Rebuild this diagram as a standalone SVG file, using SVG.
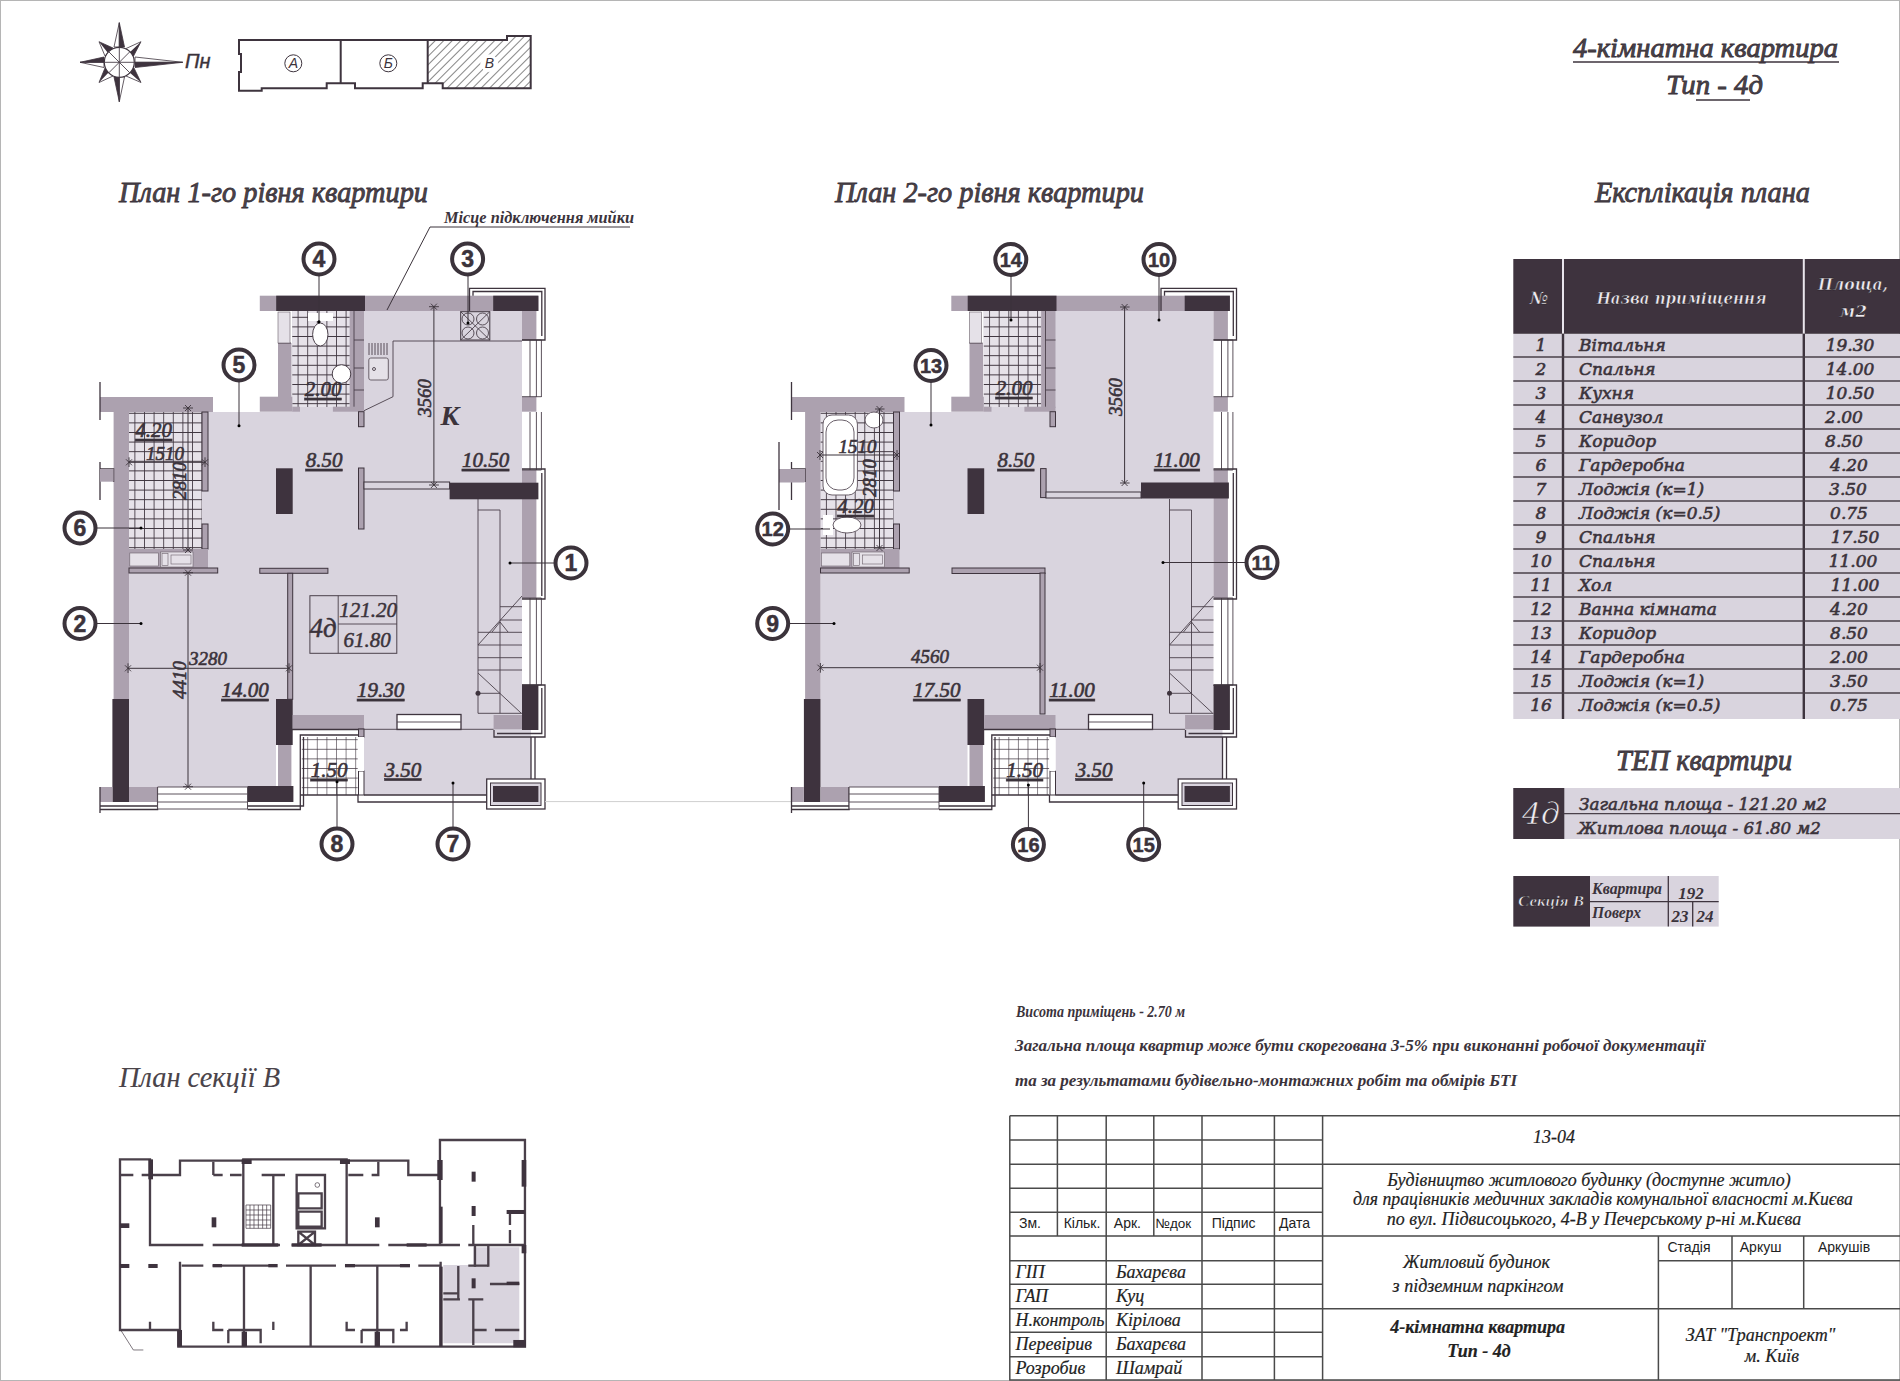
<svg xmlns="http://www.w3.org/2000/svg" width="1900" height="1381" viewBox="0 0 1900 1381">
<style>
text{font-family:"Liberation Serif","Times New Roman",serif;font-style:italic;fill:#3b333b}
.h{font-size:29px;stroke:#3b333b;stroke-width:.8;fill:#4a444a}
.lab{font-size:21px;text-anchor:middle;text-decoration:underline;stroke:#3b333b;stroke-width:.6}
.dim{font-size:19px;text-anchor:middle;stroke:#3b333b;stroke-width:.6}
.num{font-family:"Liberation Sans",Arial,sans-serif;font-style:normal;font-weight:bold;font-size:23px;text-anchor:middle;stroke:#3b333b;stroke-width:.5}
.n2{font-size:20px}
.r{font-family:"DejaVu Serif",serif;font-size:17px;stroke:#3b333b;stroke-width:.6}
.rm{text-anchor:middle}
.w{fill:#eeeaf0;stroke:#1f1a1f;stroke-width:.5}
.note{font-size:16px;font-weight:bold}
.tb{font-size:18px;stroke:#222;stroke-width:.2;fill:#222}
.ts{font-family:"Liberation Sans",Arial,sans-serif;font-style:normal;font-size:14px;text-anchor:middle;fill:#222}
.tm{font-size:18px;text-anchor:middle;stroke:#222;stroke-width:.2;fill:#222}
.dk{fill:#3e333e}.md{fill:#aca1af}.fl{fill:#d9d4de}
.ln{fill:none;stroke:#3e343e;stroke-width:1.3}
.thin{fill:none;stroke:#4a404a;stroke-width:.9}
.dl{stroke:#3b333b;stroke-width:1;fill:none;marker-start:url(#tick);marker-end:url(#tick)}
.c{fill:#fff;stroke:#3b333b;stroke-width:4}
.ld{fill:none;stroke:#3b333b;stroke-width:1}
.sw{fill:none;stroke:#4a404a;stroke-linecap:butt}
</style>
<defs>
<pattern id="tile" width="9.6" height="9.6" patternUnits="userSpaceOnUse"><rect width="9.6" height="9.6" fill="#e6e2e9"/><path d="M0 0H9.6M0 0V9.6" stroke="#3e343e" stroke-width="1.7"/></pattern>
<pattern id="tileW" width="9.6" height="9.6" patternUnits="userSpaceOnUse"><rect width="9.6" height="9.6" fill="#fff"/><path d="M0 0H9.6M0 0V9.6" stroke="#3e343e" stroke-width="1.2"/></pattern>
<pattern id="hatch" width="6" height="6" patternUnits="userSpaceOnUse" patternTransform="rotate(-45)"><rect width="6" height="6" fill="#fff"/><path d="M0 0H6" stroke="#444" stroke-width="1.3"/></pattern>
<marker id="tick" markerUnits="userSpaceOnUse" markerWidth="10" markerHeight="10" refX="5" refY="5" orient="auto"><path d="M2 2L8 8M2 8L8 2M5 0V10" stroke="#3b333b" stroke-width=".9" fill="none"/></marker>
<g id="shell">
<path class="fl" d="M129 412H292V311H522V729H292V745H276V787H129Z"/>
<rect class="fl" x="364" y="729" width="167" height="66"/>
<rect x="129" y="412" width="73" height="137" fill="url(#tile)"/>
<rect x="292.3" y="311" width="57.4" height="96" fill="url(#tile)"/>
<rect x="301.8" y="737" width="55.9" height="58" fill="url(#tileW)"/>
<rect class="md" x="259.8" y="295.7" width="278.6" height="15.3"/>
<rect class="dk" x="276.2" y="295.7" width="88.8" height="15.3"/>
<rect class="dk" x="493.2" y="295.7" width="45.2" height="15.3"/>
<rect class="md" x="522" y="311" width="14.4" height="29"/>
<rect class="md" x="522" y="396.7" width="14.4" height="15"/>
<rect class="md" x="522" y="470" width="14.4" height="128"/>
<rect class="md" x="113.6" y="397" width="15.4" height="302"/>
<rect class="md" x="100" y="397" width="113" height="15"/>
<rect class="dk" x="112.4" y="699" width="16.6" height="103"/>
<rect class="md" x="100" y="787" width="12.4" height="15"/>
<rect class="md" x="129" y="787" width="28.6" height="15"/>
<rect class="dk" x="247.5" y="786" width="45.9" height="16"/>
<rect class="dk" x="276" y="699" width="16.7" height="46"/>
<rect class="md" x="278" y="745" width="13.4" height="41"/>
<rect class="md" x="292.7" y="715" width="71.3" height="14.3"/>
<rect class="md" x="493.6" y="715" width="28.4" height="14.3"/>
<rect class="dk" x="522" y="685" width="16.4" height="45"/>
<rect class="dk" x="276" y="468.3" width="16.7" height="45.7"/>
<rect class="md" x="278" y="343" width="13.5" height="54"/>
<rect class="md" x="259.8" y="396.7" width="32.5" height="15"/>
<rect class="md" x="349.7" y="311" width="14.3" height="97"/>
<path class="thin" d="M354 311V408M354 340H364M354 368H364M354 390H364M278 343H291"/>
<rect class="md" x="332.9" y="406.7" width="31.1" height="5"/>
<rect class="md" x="292.3" y="406.7" width="7.7" height="5"/>
<rect class="md" x="358.5" y="411.7" width="5.5" height="15" stroke="#3e343e"/>
<rect class="md" x="202" y="412" width="6" height="79" stroke="#3e343e"/>
<rect class="md" x="202" y="524" width="6" height="25" stroke="#3e343e"/>
<rect class="md" x="129" y="549" width="79" height="19.5"/>
<rect class="md" x="129" y="568" width="88.7" height="5" stroke="#3e343e"/>
<rect x="129.8" y="553" width="28.5" height="13" fill="#e5e1e8" stroke="#6a606a" stroke-width=".6"/>
<rect x="160.5" y="552" width="32.5" height="15" fill="#e5e1e8" stroke="#6a606a" stroke-width=".6"/>
<rect x="162" y="553.5" width="6" height="12" fill="none" stroke="#6a606a" stroke-width=".6"/>
<rect x="171" y="555" width="20" height="9" fill="none" stroke="#6a606a" stroke-width=".6"/>
<rect x="278" y="312" width="12" height="31" fill="#e5e1e8" stroke="#6a606a" stroke-width=".6"/>
<path class="thin" d="M522 340H541.4M522 396.7H541.4M522 470H541.4M522 598H541.4M522 685H541.4"/>
<path class="thin" d="M530 340V397M536.4 340V397M541.4 340V397M530 412V470M536.4 412V470M541.4 412V470M530 598V685M536.4 598V685M541.4 598V685"/>
<path class="ln" d="M469.5 311V288.3H545V340H522M473 295.7V291.5H541.8V336M522 469H545V599H522M541.8 473V596M522 685H545V737H494V730M541.8 688V733.5H497"/>
<path class="ln" d="M100 787V813M100 806H157.6M100 809.5H157.6V787M100 382V420M100 462V500M100 469H113.6V482"/>
<rect class="md" x="100" y="469" width="13.6" height="12.7"/>
<rect x="157.6" y="787" width="89.9" height="22" fill="#fff"/>
<path class="thin" d="M157.6 787H247.5M157.6 794H247.5M157.6 802H247.5M157.6 809H247.5M157.6 787V809M247.5 787V809"/>
<path class="ln" d="M247.5 809.5H300.3V735H364M303.5 737V806H247.5M292 729.5H364"/>
<rect x="358.5" y="729" width="5.5" height="8" class="md" stroke="#3e343e"/>
<rect x="358.5" y="771" width="5.5" height="24" fill="#fff" stroke="#3e343e"/>
<rect x="358" y="737" width="6" height="34" fill="#fff"/>
<path class="ln" d="M300.3 795H358M358 795V802H487M364 795H487"/>
<rect x="486.7" y="779" width="58.3" height="30" fill="#fff" stroke="#3e343e" stroke-width="1.3"/>
<rect x="490.5" y="783" width="50.5" height="22.5" fill="#d9d4de" stroke="#3e343e" stroke-width="1"/>
<rect class="dk" x="493" y="786" width="45.4" height="16"/>
<path class="ln" d="M531 737V779M535 737V779"/>
<rect x="397" y="714.5" width="64" height="15" fill="#fff" stroke="#3e343e" stroke-width="1.3"/>
<path class="thin" d="M397 722H461"/>
<path class="thin" d="M364 729.3H493.6"/>
<path class="thin" d="M478 499V713.3H522M478 510H500V713.3M500 606.7H522M500 620H522M478 632.3H522M478 645H522M478 657.7H522M478 670H522M478 645L522 596M478 673L521 713M478 693.3H500M492 632L500 622L508 632"/>
<circle cx="478" cy="693.3" r="2.5" fill="#3e343e"/>
</g>
</defs>

<rect width="1900" height="1381" fill="#fff"/>
<rect x=".5" y=".5" width="1899" height="1380" fill="none" stroke="#b5b5b5"/>

<g id="compass">
<path fill="#fff" stroke="#3e343e" stroke-width=".8" d="M119.3 22.7L114 47H119.3ZM124.5 47L119.3 22.7V47ZM182.7 62.3L135 57V62.3ZM135 67.5L182.7 62.3H135ZM119.3 101.7L114 77H119.3ZM124.5 77L119.3 101.7V77ZM80 62.3L104 57V62.3ZM104 67.5L80 62.3H104Z"/>
<path fill="#3e333e" d="M119.3 22.7L124.5 47H119.3ZM182.7 62.3L135 67.5V62.3ZM119.3 101.7L114 77H119.3ZM80 62.3L104 57V62.3Z"/>
<path fill="#fff" stroke="#3e343e" stroke-width=".8" d="M99 41.7L113 48L105 56ZM141 41.7L133 57L125 49ZM141 82.5L126 76L134 68ZM99 82.5L105 68L113 76Z"/>
<path fill="#3e333e" d="M99 41.7L113 48L108 53ZM141 41.7L133 57L129 53ZM141 82.5L129 72L134 68ZM99 82.5L105 68L109 72Z"/>
<circle cx="119.3" cy="62.3" r="15" fill="#fff" stroke="#3e343e" stroke-width="1.2"/>
<path class="thin" d="M104.3 62.3H134.3M119.3 47.3V77.3M108.7 51.7L129.9 72.9M129.9 51.7L108.7 72.9"/>
<text x="185" y="68" font-size="20" stroke="#3b333b" stroke-width=".4" style="font-family:'Liberation Sans',Arial,sans-serif">Пн</text>
</g>

<g id="key-plan">
<path fill="url(#hatch)" d="M427.7 40H507V36H530.7V88.3H442.7V83.3H427.7Z"/>
<path fill="none" stroke="#3e343e" stroke-width="2" d="M239 40H507V36H530.7V88.3H442.7V83.3H422.7V88.3H355V83.3H326.7V88.3H261.7V90.7H239V72H241V54H239ZM340.7 40V83.3M427.7 40V83.3"/>
<circle cx="293.3" cy="63.3" r="8.5" fill="#fff" stroke="#3e343e"/>
<circle cx="388.3" cy="63.3" r="8.5" fill="#fff" stroke="#3e343e"/>
<circle cx="489.3" cy="63.3" r="8.5" fill="#fff" stroke="#fff"/>
<text x="293.3" y="68" font-size="14" text-anchor="middle" style="font-family:'Liberation Sans',Arial,sans-serif">А</text>
<text x="388.3" y="68" font-size="14" text-anchor="middle" style="font-family:'Liberation Sans',Arial,sans-serif">Б</text>
<text x="489.3" y="68" font-size="14" text-anchor="middle" style="font-family:'Liberation Sans',Arial,sans-serif">В</text>
</g>

<g id="titles">
<text class="h" x="1573" y="57" textLength="265" lengthAdjust="spacingAndGlyphs" style="font-size:27px">4-кімнатна квартира</text>
<path class="ln" d="M1573 62H1839M1696 100H1750"/>
<text class="h" x="1666" y="94" textLength="97" lengthAdjust="spacingAndGlyphs" style="font-size:27px">Тип - 4д</text>
<text class="h" x="119" y="202" textLength="309" lengthAdjust="spacingAndGlyphs">План 1-го рівня квартири</text>
<text class="h" x="835" y="202" textLength="309" lengthAdjust="spacingAndGlyphs">План 2-го рівня квартири</text>
<text class="h" x="1595" y="202" textLength="215" lengthAdjust="spacingAndGlyphs">Експлікація плана</text>
<text class="h" x="1616" y="770" textLength="176" lengthAdjust="spacingAndGlyphs">ТЕП квартири</text>
<text class="h" x="119" y="1087" textLength="161" lengthAdjust="spacingAndGlyphs" style="stroke-width:.1">План секції В</text>
</g>

<g id="plan-1">
<use href="#shell"/>
<rect class="md" x="358.5" y="468" width="5.5" height="61" stroke="#3e343e"/>
<rect class="fl" x="364" y="482" width="85.6" height="7" stroke="#3e343e"/>
<rect class="dk" x="449.6" y="482.7" width="88.8" height="16.6"/>
<rect class="md" x="259.8" y="568.3" width="68.1" height="5" stroke="#3e343e"/>
<rect class="md" x="287.7" y="573.3" width="5" height="126" stroke="#3e343e"/>
<path class="thin" d="M364 410.7L393 396.7V341H522"/>
<rect x="460.7" y="311.7" width="29.1" height="28.3" fill="#d9d4de" stroke="#3e343e"/>
<path class="thin" d="M460.7 311.7L489.8 340M489.8 311.7L460.7 340"/>
<circle cx="468" cy="319" r="6" class="thin"/><circle cx="482.5" cy="319" r="6" class="thin"/><circle cx="468" cy="333" r="6" class="thin"/><circle cx="482.5" cy="333" r="6" class="thin"/>
<rect x="368.8" y="358" width="19.5" height="22" rx="2" fill="#e5e1e8" stroke="#6a606a"/>
<circle cx="374" cy="369" r="1.5" class="thin"/>
<path class="thin" d="M369 343V355M372 343V355M375 343V355M378 343V355M381 343V355M384 343V355M387 343V355"/>
<rect x="308" y="313" width="25" height="8" fill="#fff"/>
<ellipse cx="320.3" cy="334.5" rx="7.7" ry="11.5" fill="#fff" stroke="#4a404a"/>
<circle cx="341.5" cy="374" r="9.3" fill="#fff" stroke="#4a404a"/>
<g id="plan-1-size-table">
<rect x="309.9" y="595.7" width="86.9" height="57.6" fill="none" stroke="#4a404a"/>
<path class="thin" d="M338.2 595.7V653.3M338.2 624H396.8"/>
<text x="323" y="637" font-size="27" text-anchor="middle" stroke="#3b333b" stroke-width=".5">4д</text>
<text x="368" y="617" font-size="21" text-anchor="middle" stroke="#3b333b" stroke-width=".5">121.20</text>
<text x="367" y="646.5" font-size="21" text-anchor="middle" stroke="#3b333b" stroke-width=".5">61.80</text>
</g>
<text class="lab" x="153.7" y="437">4.20</text>
<text class="lab" x="323" y="396">2.00</text>
<text class="lab" x="324" y="467">8.50</text>
<text class="lab" x="485.5" y="467">10.50</text>
<text x="450" y="425" font-size="28" font-weight="bold" text-anchor="middle">К</text>
<text class="lab" x="245" y="697">14.00</text>
<text class="lab" x="380.7" y="697">19.30</text>
<text class="lab" x="329" y="777">1.50</text>
<text class="lab" x="402.9" y="776.5">3.50</text>
<path class="dl" d="M433.9 306.7V485"/>
<path class="dl" d="M129 462.3H205"/>
<path class="dl" d="M188 408V550"/>
<path class="dl" d="M188 572.7V786.7"/>
<path class="dl" d="M128 668.3H289"/>
<text class="dim" x="165" y="460">1510</text>
<text class="dim" transform="rotate(-90 431 398)" x="431" y="398">3560</text>
<text class="dim" transform="rotate(-90 186 481)" x="186" y="481">2810</text>
<text class="dim" transform="rotate(-90 186 680)" x="186" y="680">4410</text>
<text class="dim" x="208" y="665">3280</text>
<path class="ld" d="M430 227H630M430 227L387 310"/>
<text x="444" y="223" font-size="17" font-weight="bold" textLength="190" lengthAdjust="spacingAndGlyphs">Місце підключення мийки</text>
</g>

<path id="plan-link" d="M545 801.6H791" stroke="#cfcfcf" fill="none"/>

<g id="plan-2">
<use href="#shell" transform="translate(691.5 0)"/>
<rect class="md" x="779" y="469" width="25.5" height="13.5"/>
<path class="ln" d="M779 442V510"/>
<rect x="1040.6" y="468.6" width="5.5" height="29" class="md" stroke="#3e343e"/>
<rect class="fl" x="1046" y="492" width="95" height="6" stroke="#3e343e"/>
<rect class="dk" x="1141" y="482.5" width="87.9" height="16"/>
<rect class="md" x="952" y="568" width="93" height="5.5" stroke="#3e343e"/>
<rect class="md" x="1040" y="573" width="5" height="141" stroke="#3e343e"/>
<rect x="823" y="415" width="34.4" height="80" rx="9" fill="#fff" stroke="#6a606a"/>
<rect x="826" y="420" width="28" height="70" rx="12" fill="#fff" stroke="#6a606a"/>
<ellipse cx="874" cy="420" rx="9" ry="8" fill="#fff" stroke="#6a606a"/>
<rect x="823" y="515" width="10" height="20" fill="#fff"/>
<ellipse cx="847" cy="525" rx="14" ry="8" fill="#fff" stroke="#6a606a"/>
<text class="lab" x="1014" y="395">2.00</text>
<text class="lab" x="855.5" y="513">4.20</text>
<text class="lab" x="1015.8" y="467">8.50</text>
<text class="lab" x="1176.9" y="467">11.00</text>
<text class="lab" x="936.8" y="697">17.50</text>
<text class="lab" x="1072" y="697">11.00</text>
<text class="lab" x="1024.6" y="777">1.50</text>
<text class="lab" x="1094" y="776.5">3.50</text>
<path class="dl" d="M1124.6 307V483"/>
<path class="dl" d="M820.4 667.7H1040"/>
<path class="dl" d="M820 455H897"/>
<path class="dl" d="M879.5 409V548"/>
<text class="dim" x="857.4" y="453">1510</text>
<text class="dim" transform="rotate(-90 876 478)" x="876" y="478">2810</text>
<text class="dim" transform="rotate(-90 1122 397)" x="1122" y="397">3560</text>
<text class="dim" x="930" y="663">4560</text>
</g>

<g id="connectors">
<path class="ld" d="M319 275V321.7M468 275V323M239 381V425.7M96 528H141M554 563H510M96 623.5H141M337 828V781.7M453 828V783M1011 275V320M1159 275V320M931 381V425M789 529H830M1245 562.5H1163M789 623.5H834M1028.4 828V785M1143.7 828V783"/>
<circle cx="319" cy="321.7" r="1.5"/><circle cx="468" cy="323" r="1.5"/><circle cx="239" cy="425.7" r="1.5"/><circle cx="141" cy="528" r="1.5"/><circle cx="510" cy="563" r="1.5"/><circle cx="141" cy="623.5" r="1.5"/><circle cx="337" cy="781.7" r="1.5"/><circle cx="453" cy="783" r="1.5"/><circle cx="1011" cy="320" r="1.5"/><circle cx="1159" cy="320" r="1.5"/><circle cx="931" cy="425" r="1.5"/><circle cx="1163" cy="562.5" r="1.5"/><circle cx="834" cy="623.5" r="1.5"/><circle cx="1028.4" cy="785" r="1.5"/><circle cx="1143.7" cy="783" r="1.5"/>
</g>

<g id="node-1"><circle class="c" cx="571" cy="563" r="15.5"/><text class="num" x="571" y="571">1</text></g>
<g id="node-2"><circle class="c" cx="80" cy="623.5" r="15.5"/><text class="num" x="80" y="631.5">2</text></g>
<g id="node-3"><circle class="c" cx="467.6" cy="259" r="15.5"/><text class="num" x="467.6" y="267">3</text></g>
<g id="node-4"><circle class="c" cx="319" cy="259" r="15.5"/><text class="num" x="319" y="267">4</text></g>
<g id="node-5"><circle class="c" cx="239" cy="365" r="15.5"/><text class="num" x="239" y="373">5</text></g>
<g id="node-6"><circle class="c" cx="80" cy="528" r="15.5"/><text class="num" x="80" y="536">6</text></g>
<g id="node-7"><circle class="c" cx="453" cy="844" r="15.5"/><text class="num" x="453" y="852">7</text></g>
<g id="node-8"><circle class="c" cx="337" cy="844" r="15.5"/><text class="num" x="337" y="852">8</text></g>
<g id="node-9"><circle class="c" cx="772.7" cy="623.5" r="15.5"/><text class="num" x="772.7" y="631.5">9</text></g>
<g id="node-10"><circle class="c" cx="1159" cy="259.5" r="15.5"/><text class="num n2" x="1159" y="266.5">10</text></g>
<g id="node-11"><circle class="c" cx="1262" cy="562.5" r="15.5"/><text class="num n2" x="1262" y="569.5">11</text></g>
<g id="node-12"><circle class="c" cx="772.7" cy="529" r="15.5"/><text class="num n2" x="772.7" y="536">12</text></g>
<g id="node-13"><circle class="c" cx="931" cy="365.5" r="15.5"/><text class="num n2" x="931" y="372.5">13</text></g>
<g id="node-14"><circle class="c" cx="1010.8" cy="259.5" r="15.5"/><text class="num n2" x="1010.8" y="266.5">14</text></g>
<g id="node-15"><circle class="c" cx="1143.7" cy="844.5" r="15.5"/><text class="num n2" x="1143.7" y="851.5">15</text></g>
<g id="node-16"><circle class="c" cx="1028.4" cy="844.5" r="15.5"/><text class="num n2" x="1028.4" y="851.5">16</text></g>

<g id="explication">
<rect class="fl" x="1513.3" y="333.8" width="386.7" height="385.2"/>
<rect class="dk" x="1513.3" y="259" width="386.7" height="74.8"/>
<path fill="none" stroke="#e9e5ec" stroke-width="2" d="M1563 259V333.8M1803.8 259V333.8"/>
<path fill="none" stroke="#3e343e" stroke-width="2.4" d="M1563 333.8V719M1803.8 333.8V719"/>
<path fill="none" stroke="#4a404a" stroke-width="1.3" d="M1513.3 357H1900M1513.3 381H1900M1513.3 405H1900M1513.3 429H1900M1513.3 453H1900M1513.3 477H1900M1513.3 501H1900M1513.3 525H1900M1513.3 549H1900M1513.3 573H1900M1513.3 597H1900M1513.3 621H1900M1513.3 645H1900M1513.3 669H1900M1513.3 693H1900"/>
<text class="r w rm" x="1539" y="304" font-weight="bold">№</text>
<text class="r w rm" x="1681.7" y="304" font-weight="bold" textLength="170" lengthAdjust="spacingAndGlyphs">Назва приміщення</text>
<text class="r w rm" x="1853" y="290" font-weight="bold" textLength="70" lengthAdjust="spacingAndGlyphs">Площа,</text>
<text class="r w rm" x="1853" y="317" font-weight="bold">м2</text>
<text class="r rm" x="1541" y="351">1</text><text class="r" x="1579" y="351">Вітальня</text><text class="r rm" x="1850" y="351">19.30</text>
<text class="r rm" x="1541" y="375">2</text><text class="r" x="1579" y="375">Спальня</text><text class="r rm" x="1850" y="375">14.00</text>
<text class="r rm" x="1541" y="399">3</text><text class="r" x="1579" y="399">Кухня</text><text class="r rm" x="1850" y="399">10.50</text>
<text class="r rm" x="1541" y="423">4</text><text class="r" x="1579" y="423">Санвузол</text><text class="r rm" x="1844" y="423">2.00</text>
<text class="r rm" x="1541" y="447">5</text><text class="r" x="1579" y="447">Коридор</text><text class="r rm" x="1844" y="447">8.50</text>
<text class="r rm" x="1541" y="471">6</text><text class="r" x="1579" y="471">Гардеробна</text><text class="r rm" x="1849" y="471">4.20</text>
<text class="r rm" x="1541" y="495">7</text><text class="r" x="1579" y="495">Лоджія (к=1)</text><text class="r rm" x="1848" y="495">3.50</text>
<text class="r rm" x="1541" y="519">8</text><text class="r" x="1579" y="519">Лоджія (к=0.5)</text><text class="r rm" x="1849" y="519">0.75</text>
<text class="r rm" x="1541" y="543">9</text><text class="r" x="1579" y="543">Спальня</text><text class="r rm" x="1855" y="543">17.50</text>
<text class="r rm" x="1541" y="567">10</text><text class="r" x="1579" y="567">Спальня</text><text class="r rm" x="1853" y="567">11.00</text>
<text class="r rm" x="1541" y="591">11</text><text class="r" x="1579" y="591">Хол</text><text class="r rm" x="1855" y="591">11.00</text>
<text class="r rm" x="1541" y="615">12</text><text class="r" x="1579" y="615">Ванна кімната</text><text class="r rm" x="1849" y="615">4.20</text>
<text class="r rm" x="1541" y="639">13</text><text class="r" x="1579" y="639">Коридор</text><text class="r rm" x="1849" y="639">8.50</text>
<text class="r rm" x="1541" y="663">14</text><text class="r" x="1579" y="663">Гардеробна</text><text class="r rm" x="1849" y="663">2.00</text>
<text class="r rm" x="1541" y="687">15</text><text class="r" x="1579" y="687">Лоджія (к=1)</text><text class="r rm" x="1849" y="687">3.50</text>
<text class="r rm" x="1541" y="711">16</text><text class="r" x="1579" y="711">Лоджія (к=0.5)</text><text class="r rm" x="1849" y="711">0.75</text>
</g>

<g id="tep">
<rect class="fl" x="1513.3" y="788" width="386.7" height="51"/>
<rect class="dk" x="1513.3" y="788" width="51" height="51"/>
<path fill="none" stroke="#4a404a" stroke-width="1.3" d="M1564 813.7H1900"/>
<text class="w" x="1541" y="824" font-size="30" text-anchor="middle" style="font-family:'DejaVu Serif',serif">4д</text>
<text class="r" x="1579" y="810" textLength="248" lengthAdjust="spacingAndGlyphs">Загальна площа - 121.20 м2</text>
<text class="r" x="1578" y="834" textLength="243" lengthAdjust="spacingAndGlyphs">Житлова площа - 61.80 м2</text>
</g>

<g id="section-box">
<rect class="fl" x="1590" y="876" width="128.7" height="50.6"/>
<rect class="dk" x="1513.3" y="876" width="76.7" height="50.6"/>
<path fill="none" stroke="#3e343e" stroke-width="1.3" d="M1590 901.6H1718.7M1668.3 876V926.6M1692.7 901.6V926.6"/>
<text class="w" x="1551" y="905.5" font-size="15" font-weight="bold" text-anchor="middle" textLength="66" lengthAdjust="spacingAndGlyphs">Секція В</text>
<text x="1592" y="893.5" font-size="16" font-weight="bold" textLength="70" lengthAdjust="spacingAndGlyphs">Квартира</text>
<text x="1592" y="918" font-size="16" font-weight="bold" textLength="49" lengthAdjust="spacingAndGlyphs">Поверх</text>
<text x="1691" y="898.5" font-size="17" font-weight="bold" text-anchor="middle">192</text>
<text x="1680" y="922" font-size="17" font-weight="bold" text-anchor="middle">23</text>
<text x="1705" y="922" font-size="17" font-weight="bold" text-anchor="middle">24</text>
</g>

<g id="notes">
<text class="note" x="1016" y="1017" textLength="169" lengthAdjust="spacingAndGlyphs">Висота приміщень - 2.70 м</text>
<text class="note" x="1015" y="1051" textLength="690" lengthAdjust="spacingAndGlyphs">Загальна площа квартир може бути скорегована 3-5% при виконанні робочої документації</text>
<text class="note" x="1015" y="1086" textLength="502" lengthAdjust="spacingAndGlyphs">та за результатами будівельно-монтажних робіт та обмірів БТІ</text>
</g>

<g id="title-block">
<path fill="none" stroke="#4a4a4a" stroke-width="1.5" d="M1009.8 1115.7H1900M1009.8 1115.7V1380H1900M1009.8 1140H1322.6M1009.8 1164.3H1900M1009.8 1188.3H1322.6M1009.8 1212.3H1322.6M1009.8 1236H1900M1009.8 1260.7H1322.6M1009.8 1284.3H1322.6M1009.8 1308.7H1900M1009.8 1332.3H1322.6M1009.8 1356.7H1322.6M1057.4 1115.7V1236M1153.8 1115.7V1236M1106.2 1115.7V1380M1202 1115.7V1380M1274.4 1115.7V1380M1322.6 1115.7V1380M1658.4 1236V1380M1732 1236V1308.7M1803.7 1236V1308.7M1658.4 1260.7H1900"/>
<text class="tm" x="1554" y="1143">13-04</text>
<text class="tm" x="1589" y="1186">Будівництво житлового будинку (доступне житло)</text>
<text class="tm" x="1603" y="1205" textLength="500" lengthAdjust="spacingAndGlyphs">для працівників медичних закладів комунальної власності  м.Києва</text>
<text class="tm" x="1594" y="1225">по вул. Підвисоцького, 4-В  у Печерському р-ні  м.Києва</text>
<text class="ts" x="1030" y="1228">Зм.</text>
<text class="ts" x="1082" y="1228">Кільк.</text>
<text class="ts" x="1127.4" y="1228">Арк.</text>
<text class="ts" x="1173.4" y="1228" style="font-size:13.5px">№док</text>
<text class="ts" x="1233.6" y="1228">Підпис</text>
<text class="ts" x="1294.5" y="1228">Дата</text>
<text class="ts" x="1689" y="1252">Стадія</text>
<text class="ts" x="1760.6" y="1252">Аркуш</text>
<text class="ts" x="1844" y="1252">Аркушів</text>
<text class="tb" x="1015.5" y="1278">ГІП</text><text class="tb" x="1116" y="1278">Бахарєва</text>
<text class="tb" x="1015.5" y="1302">ГАП</text><text class="tb" x="1116" y="1302">Куц</text>
<text class="tb" x="1015.5" y="1326" textLength="89" lengthAdjust="spacingAndGlyphs">Н.контроль</text><text class="tb" x="1116" y="1326">Кірілова</text>
<text class="tb" x="1015.5" y="1350">Перевірив</text><text class="tb" x="1116" y="1350">Бахарєва</text>
<text class="tb" x="1015.5" y="1374">Розробив</text><text class="tb" x="1116" y="1374">Шамрай</text>
<text class="tm" x="1476.5" y="1268">Житловий будинок</text>
<text class="tm" x="1478" y="1292">з підземним паркінгом</text>
<text class="tm" x="1477.6" y="1333" font-weight="bold">4-кімнатна квартира</text>
<text class="tm" x="1479" y="1357" font-weight="bold">Тип - 4д</text>
<text class="tm" x="1760.6" y="1341">ЗАТ "Транспроект"</text>
<text class="tm" x="1772" y="1362">м. Київ</text>
</g>

<g id="section-plan" transform="translate(100 1130) scale(.3333)">
<path class="fl" d="M1120 352H1258V640H1030V405H1120Z"/>
<g class="sw" stroke-width="7">
<path d="M60 88H150V135H240V92H430V88H740V92H925V135H1020V30H1275V650H235V600H60Z"/>
<path d="M150 135V345H310M338 345H540M575 345H838M865 345H1080M1105 345H1275"/>
<path d="M245 407H310M338 407H530M558 407H708M735 407H930M955 407H1020M1105 407H1165"/>
<path d="M430 92V345M520 135V345M740 92V345M1020 135V345M240 395V650M432 407V650M632 407V650M832 407V650M1022 395V650"/>
<path d="M590 135H675V295H590ZM595 190H665V235H595ZM595 245H665V290H595ZM595 305H645V345H595ZM595 305L645 345M645 305L595 345"/>
<path d="M62 135H100M125 135H150M340 95V135M340 135H368M390 135H425M745 135H790M815 135H835V95M485 135H555M1120 285V345M1125 345V410M1165 345V410M1170 462H1258M1120 508V645M1105 508H1150M1230 245V285M1230 300V340M1030 508H1080M1075 408V508M1030 490H1075"/>
<path d="M340 575V600H370M385 600H482V640M385 600V640M520 575V600M740 575V600H765M785 600H880V640M785 600V640M920 575V600H900M1120 600H1160M1185 600H1258M150 575V600M1225 245H1275"/>
</g>
<g fill="#3e333e">
<rect x="335" y="262" width="14" height="30"/><rect x="825" y="262" width="14" height="30"/><rect x="60" y="280" width="28" height="14"/><rect x="60" y="402" width="28" height="12"/><rect x="145" y="402" width="28" height="12"/><rect x="1115" y="125" width="12" height="30"/><rect x="1115" y="228" width="12" height="30"/><rect x="1115" y="445" width="12" height="30"/>
<rect x="425" y="88" width="30" height="14"/><rect x="720" y="88" width="30" height="14"/><rect x="145" y="88" width="14" height="60"/><rect x="1012" y="90" width="16" height="60"/><rect x="1265" y="90" width="14" height="80"/><rect x="425" y="340" width="110" height="10"/><rect x="575" y="340" width="90" height="10"/><rect x="920" y="340" width="60" height="10"/><rect x="338" y="402" width="28" height="10"/><rect x="505" y="402" width="28" height="10"/><rect x="735" y="402" width="30" height="10"/><rect x="900" y="402" width="30" height="10"/><rect x="1240" y="630" width="38" height="22"/><rect x="425" y="605" width="16" height="45"/><rect x="824" y="605" width="16" height="45"/><rect x="1018" y="410" width="10" height="240"/><rect x="1020" y="230" width="8" height="110"/><rect x="232" y="600" width="14" height="50"/><rect x="1265" y="345" width="14" height="25"/><rect x="1220" y="240" width="55" height="12"/><rect x="1220" y="455" width="38" height="10"/>
</g>
<path fill="none" stroke="#3e343e" stroke-width="2" d="M438 225H512V295H438ZM438 240H512M438 255H512M438 270H512M438 285H512M450 225V295M462 225V295M475 225V295M488 225V295M500 225V295M62 600L100 660H130"/>
<circle cx="652" cy="165" r="7" fill="none" stroke="#3e343e" stroke-width="2"/>
</g>
</svg>
